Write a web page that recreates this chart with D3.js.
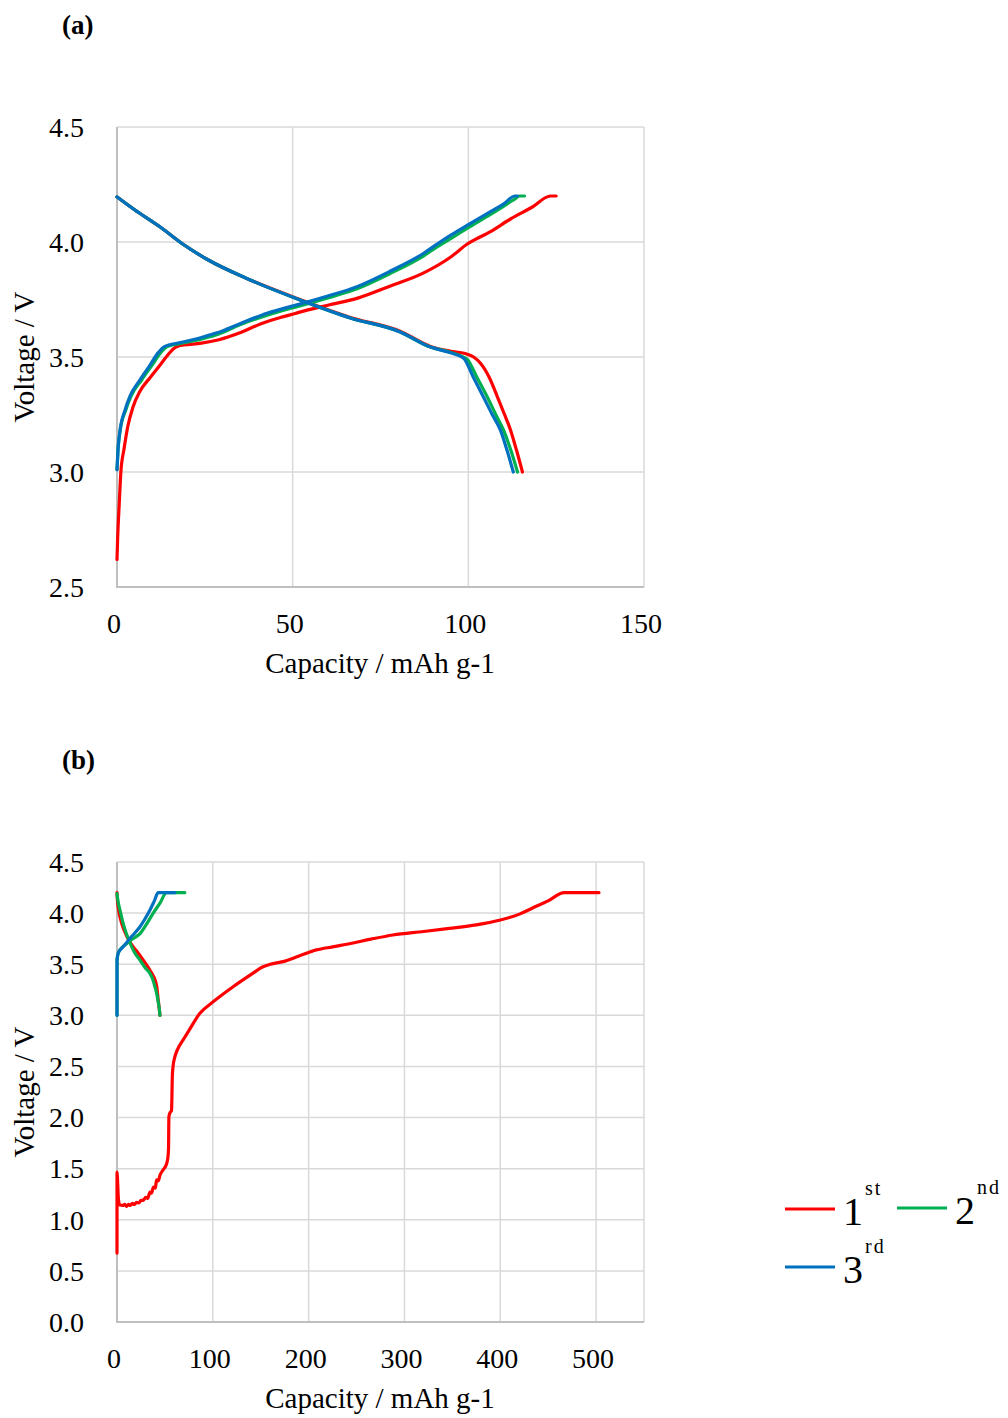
<!DOCTYPE html>
<html>
<head>
<meta charset="utf-8">
<script src="https://cdn.jsdelivr.net/npm/d3@7"></script>
<style>
  body { margin: 0; background: #fff; }
  text { font-family: "Liberation Serif", "Times New Roman", serif; fill: #000; }
</style>
</head>
<body>
<svg id="chart" width="1008" height="1418"></svg>
<script>
// ---- panel (a) data : [capacity mAh/g, voltage V]
var aCharge1 = [[0,2.62],[0.2,2.72],[0.6,2.85],[1.1,3.0],[2,3.1],[3.1,3.2],[4.5,3.28],[6.5,3.35],[9.4,3.41],[12,3.46],[14,3.5],[16,3.535],[17.5,3.548],[19,3.552],[24,3.56],[29,3.575],[35,3.605],[41,3.645],[46.5,3.672],[49.3,3.683],[52,3.695],[60,3.725],[68.3,3.755],[78,3.81],[87.3,3.866],[95,3.935],[99.6,3.99],[106.3,4.045],[112,4.1],[118,4.15],[123.4,4.2],[125,4.2]];
var aCharge2 = [[0,3.01],[0.3,3.1],[0.9,3.18],[2.5,3.27],[4,3.33],[7,3.4],[10,3.465],[12.5,3.52],[14.3,3.545],[19.5,3.563],[24.5,3.58],[29,3.6],[35,3.64],[43,3.683],[49.3,3.711],[52,3.722],[60,3.757],[68.3,3.797],[78,3.865],[87.3,3.94],[91,3.978],[95,4.015],[100.6,4.068],[106.3,4.12],[110,4.155],[113.5,4.19],[114.5,4.2],[116,4.2]];
var aCharge3 = [[0,3.01],[0.3,3.1],[0.85,3.18],[2.3,3.27],[3.7,3.33],[6.5,3.4],[9.4,3.465],[11.8,3.52],[13.5,3.545],[18.8,3.565],[24,3.585],[28.5,3.605],[35,3.645],[42.7,3.69],[49.3,3.719],[52,3.73],[60,3.765],[68.3,3.806],[78,3.875],[87.3,3.951],[91,3.99],[95,4.03],[100.6,4.081],[106.3,4.132],[110,4.165],[113.3,4.2],[114,4.2]];
var aDischarge1 = [[0,4.196],[5,4.14],[12.3,4.065],[18.8,3.99],[25.6,3.925],[37.9,3.835],[52.1,3.75],[66.4,3.672],[80.6,3.612],[89.2,3.546],[95,3.525],[99.1,3.515],[101.5,3.5],[103.4,3.474],[106,3.41],[108.3,3.326],[110.3,3.25],[112,3.183],[113.8,3.09],[115.4,3.0]];
var aDischarge2 = [[0,4.196],[5,4.14],[12.3,4.065],[18.8,3.99],[25.6,3.925],[37.9,3.835],[52.1,3.748],[66.4,3.67],[80.6,3.609],[89.2,3.543],[95,3.52],[98.5,3.5],[99.7,3.49],[102.5,3.41],[105.4,3.326],[107.8,3.25],[110,3.183],[112.2,3.09],[114,3.0]];
var aDischarge3 = [[0,4.196],[5,4.14],[12.3,4.065],[18.8,3.99],[25.6,3.925],[37.9,3.835],[52.1,3.748],[66.4,3.67],[80.6,3.609],[89.2,3.543],[95,3.518],[98.6,3.496],[101.5,3.41],[104.3,3.326],[106.8,3.25],[109.1,3.183],[111.1,3.09],[112.8,3.0]];

// ---- panel (b) data
var bCharge1 = [[0,0.674],[0.05,1.467],[0.5,1.4],[1.5,1.2],[3,1.144],[6,1.14],[8,1.15],[10,1.13],[12,1.15],[14,1.14],[16,1.16],[18,1.15],[20.4,1.17],[23,1.165],[25,1.19],[27.4,1.19],[30,1.22],[32,1.21],[34.4,1.27],[36,1.26],[38,1.32],[40,1.31],[41.3,1.39],[43,1.38],[45,1.44],[48.3,1.49],[51,1.53],[53,1.6],[53.8,1.7],[54,1.9],[54.2,2.01],[55.5,2.05],[56.9,2.07],[57.3,2.2],[57.7,2.4],[58.5,2.5],[60,2.58],[62,2.64],[65,2.7],[69,2.76],[75,2.85],[86.5,3.02],[100,3.13],[121.2,3.28],[140,3.4],[152.4,3.476],[160,3.5],[173.3,3.525],[190,3.58],[208,3.64],[225,3.67],[242.7,3.7],[265,3.745],[287.8,3.786],[320,3.82],[346.9,3.85],[375,3.885],[399,3.93],[420,3.99],[433.7,4.05],[450,4.12],[466.7,4.2],[503,4.2]];
var bDischarge1 = [[0,4.2],[0.5,4.12],[1.5,4.04],[4,3.93],[8,3.82],[12,3.74],[17,3.67],[22,3.61],[27.4,3.54],[31,3.49],[34.4,3.44],[37,3.4],[39.6,3.35],[41.5,3.28],[43,3.15],[44,3.07],[44.8,3.0]];
var bCharge2 = [[0,3.0],[0.05,3.54],[1,3.6],[3,3.64],[6,3.67],[10,3.7],[15,3.74],[20,3.77],[24,3.8],[30,3.88],[37.8,4.0],[45,4.1],[51.7,4.2],[70.8,4.2]];
var bDischarge2 = [[0,4.19],[1,4.12],[3.1,4.03],[7,3.88],[13.5,3.71],[18,3.62],[24,3.54],[29,3.47],[34.4,3.41],[37,3.36],[39.6,3.28],[41.5,3.21],[43,3.133],[44.2,3.06],[44.8,3.0]];
var bCharge3 = [[0,3.0],[0.05,3.54],[1,3.6],[2.5,3.63],[4.9,3.656],[9,3.7],[13.5,3.753],[19,3.81],[24,3.867],[29,3.94],[34.4,4.03],[39,4.12],[43,4.2],[60.4,4.2]];

var aXTicks = [0, 50, 100, 150];
var aYTicks = [2.5, 3.0, 3.5, 4.0, 4.5];
var bXTicks = [0, 100, 200, 300, 400, 500];
var bYTicks = [0.0, 0.5, 1.0, 1.5, 2.0, 2.5, 3.0, 3.5, 4.0, 4.5];
var cycleNames = ["1", "2", "3"];
var cycleSups = ["st", "nd", "rd"];
var colors = ["#ff0000", "#00b050", "#0070c0"];

var svg = d3.select("#chart");

function drawPanel(opt) {
  var x = d3.scaleLinear().domain(opt.xDomain).range([117, 644]);
  var y = d3.scaleLinear().domain(opt.yDomain).range([opt.bottom, opt.top]);
  var g = svg.append("g");

  // grid
  g.selectAll(".vgrid").data(opt.xTicks.slice(1)).enter().append("line")
    .attr("x1", function(d) { return x(d); }).attr("x2", function(d) { return x(d); })
    .attr("y1", opt.top).attr("y2", opt.bottom)
    .attr("stroke", "#d9d9d9").attr("stroke-width", 1.5);
  g.selectAll(".hgrid").data(opt.yTicks.slice(1)).enter().append("line")
    .attr("x1", 117).attr("x2", 644)
    .attr("y1", function(d) { return y(d); }).attr("y2", function(d) { return y(d); })
    .attr("stroke", "#d9d9d9").attr("stroke-width", 1.5);
  if (opt.xDomain[1] > opt.xTicks[opt.xTicks.length - 1]) {
    g.append("line").attr("x1", 644).attr("x2", 644).attr("y1", opt.top).attr("y2", opt.bottom)
      .attr("stroke", "#d9d9d9").attr("stroke-width", 1.5);
  }
  // axis lines
  g.append("line").attr("x1", 117).attr("x2", 117).attr("y1", opt.top).attr("y2", opt.bottom)
    .attr("stroke", "#bfbfbf").attr("stroke-width", 2);
  g.append("line").attr("x1", 116).attr("x2", 644).attr("y1", opt.bottom).attr("y2", opt.bottom)
    .attr("stroke", "#bfbfbf").attr("stroke-width", 2);

  // tick labels
  g.selectAll(".ytl").data(opt.yTicks).enter().append("text")
    .attr("x", 84).attr("y", function(d) { return y(d); })
    .attr("dy", "0.35em").attr("text-anchor", "end")
    .style("font-size", "28px")
    .text(function(d) { return d.toFixed(1); });
  g.selectAll(".xtl").data(opt.xTicks).enter().append("text")
    .attr("x", function(d) { return x(d) - 3; }).attr("y", opt.bottom + 46)
    .attr("text-anchor", "middle")
    .style("font-size", "28px")
    .text(function(d) { return d; });

  // axis titles
  g.append("text").attr("x", 380).attr("y", opt.bottom + 86)
    .attr("text-anchor", "middle").style("font-size", "29px")
    .text("Capacity / mAh g-1");
  g.append("text")
    .attr("transform", "translate(34," + ((opt.top + opt.bottom) / 2) + ") rotate(-90)")
    .attr("text-anchor", "middle").style("font-size", "29px")
    .text("Voltage / V");

  // panel label
  g.append("text").attr("x", 62).attr("y", opt.top - 93)
    .style("font-size", "27px").style("font-weight", "bold")
    .text(opt.label);

  // smoothed series, no overshoot on the 4.2 V plateaus
  var line = d3.line()
    .curve(d3.curveMonotoneX)
    .x(function(d) { return x(d[0]); })
    .y(function(d) { return y(d[1]); });

  opt.series.forEach(function(s) {
    g.append("path").datum(s.data)
      .attr("d", line)
      .attr("fill", "none")
      .attr("stroke", colors[s.cycle])
      .attr("stroke-width", 3.2)
      .attr("stroke-linejoin", "round")
      .attr("stroke-linecap", "round");
  });
}

drawPanel({
  label: "(a)", top: 127, bottom: 587,
  xDomain: [0, 150], yDomain: [2.5, 4.5],
  xTicks: aXTicks, yTicks: aYTicks,
  series: [
    {cycle: 0, data: aCharge1}, {cycle: 0, data: aDischarge1},
    {cycle: 1, data: aCharge2}, {cycle: 1, data: aDischarge2},
    {cycle: 2, data: aCharge3}, {cycle: 2, data: aDischarge3}
  ]
});

drawPanel({
  label: "(b)", top: 862, bottom: 1322,
  xDomain: [0, 550], yDomain: [0, 4.5],
  xTicks: bXTicks, yTicks: bYTicks,
  series: [
    {cycle: 0, data: bCharge1}, {cycle: 0, data: bDischarge1},
    {cycle: 1, data: bCharge2}, {cycle: 1, data: bDischarge2},
    {cycle: 2, data: bCharge3}
  ]
});

// legend
var legendPos = [[785, 1209], [897, 1208], [785, 1267]];
var legend = svg.append("g");
cycleNames.forEach(function(name, i) {
  var p = legendPos[i];
  legend.append("line")
    .attr("x1", p[0]).attr("x2", p[0] + 50)
    .attr("y1", p[1]).attr("y2", p[1])
    .attr("stroke", colors[i]).attr("stroke-width", 3);
  legend.append("text")
    .attr("x", p[0] + 58).attr("y", p[1] + 16)
    .style("font-size", "40px")
    .text(name);
  legend.append("text")
    .attr("x", p[0] + 80).attr("y", p[1] - 14)
    .style("font-size", "20px")
    .style("letter-spacing", "2px")
    .text(cycleSups[i]);
});
</script>
</body>
</html>
